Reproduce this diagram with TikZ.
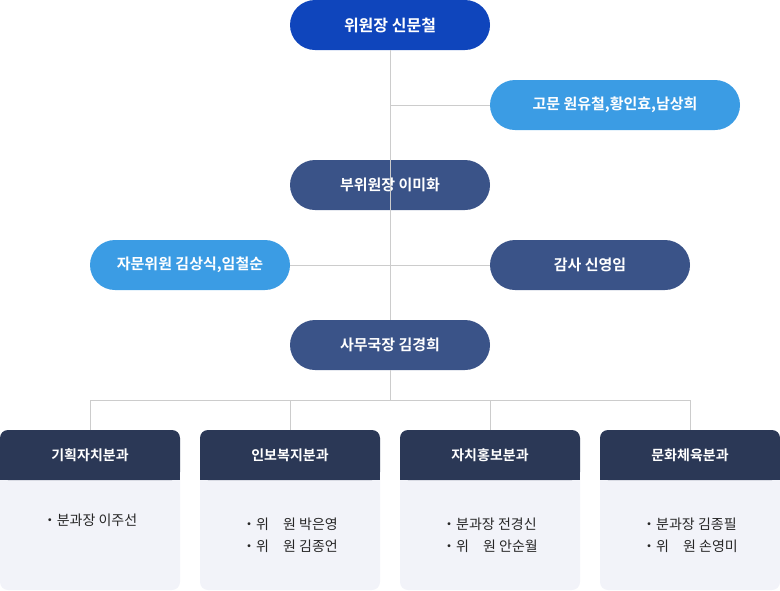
\documentclass[tikz,border=0pt]{standalone}
\usepackage{fontspec}
\setmainfont{Noto Sans CJK KR}
\newfontfamily\krb{Noto Sans CJK KR Bold}
\definecolor{cTop}{HTML}{0F45BC}
\definecolor{cLight}{HTML}{3B9CE4}
\definecolor{cDark}{HTML}{3A5388}
\definecolor{cHead}{HTML}{2B3856}
\definecolor{cBody}{HTML}{F2F3F9}
\definecolor{cLine}{HTML}{CCCCCC}
\tikzset{x=1pt,y=-1pt,
 pill/.style={rounded corners=25pt,minimum width=200pt,minimum height=50pt,inner sep=0pt,text=white,font=\krb\fontsize{15}{18}\selectfont},
 conn/.style={draw=cLine,line width=0.8pt},
 body/.style={font=\fontsize{14}{18}\selectfont,text=black!85,align=left}}
\begin{document}
\begin{tikzpicture}
\useasboundingbox (0,0) rectangle (780,590);
\node[pill,fill=cTop,font=\krb\fontsize{16}{19}\selectfont] (chair) at (390,25) {위원장 신문철};
\node[pill,fill=cLight,minimum width=250pt] (adv) at (615,105) {고문 원유철,황인효,남상희};
\node[pill,fill=cDark] (vice) at (390,185) {부위원장 이미화};
\node[pill,fill=cLight] (cons) at (190,265) {자문위원 김상식,임철순};
\node[pill,fill=cDark] (aud) at (590,265) {감사 신영임};
\node[pill,fill=cDark] (sec) at (390,345) {사무국장 김경희};
\coordinate (j1) at (390,105);
\coordinate (j2) at (390,265);
\coordinate (hb) at (390,400);
\begin{scope}[on background layer/.style={}]
\end{scope}
\foreach \i/\x/\t in {1/0/기획자치분과,2/200/인보복지분과,3/400/자치홍보분과,4/600/문화체육분과}{
  \fill[cBody,rounded corners=8pt] (\x,430) rectangle ++(180,160);
  \fill[cHead,rounded corners=8pt] (\x,430) rectangle ++(180,50);
  \fill[cHead] (\x,470) rectangle ++(180,10);
  \node[font=\krb\fontsize{14}{17}\selectfont,text=white] (h\i) at (\x+90,455) {\t};
  \coordinate (t\i) at (\x+90,430);
}
\draw[conn] (chair) -- (sec);
\draw[conn] (sec.south) -- (hb);
\draw[conn] (j1) -- (adv.west);
\draw[conn] (cons.east) -- (aud.west);
\draw[conn] (t1) -- (t1|-hb) -- (t4|-hb) -- (t4);
\draw[conn] (t2) -- (t2|-hb);
\draw[conn] (t3) -- (t3|-hb);
\node[body] (b1) at (90,520) {・분과장 이주선};
\node[body] (b2) at (290,535) {・위\quad 원 박은영\\[4pt]・위\quad 원 김종언};
\node[body] (b3) at (490,535) {・분과장 전경신\\[4pt]・위\quad 원 안순월};
\node[body] (b4) at (690,535) {・분과장 김종필\\[4pt]・위\quad 원 손영미};
\end{tikzpicture}
\end{document}
